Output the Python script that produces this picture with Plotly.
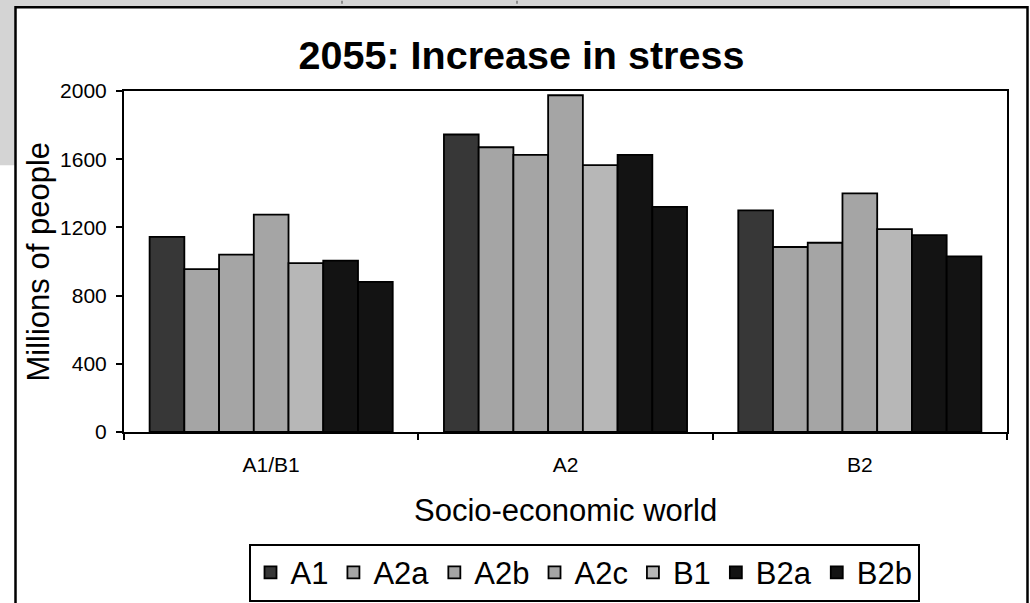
import plotly.graph_objects as go

# ---------------- data ----------------
categories = ["A1/B1", "A2", "B2"]
series_names = ["A1", "A2a", "A2b", "A2c", "B1", "B2a", "B2b"]
A1 = [1145, 1745, 1300]
A2a = [955, 1670, 1085]
A2b = [1040, 1625, 1110]
A2c = [1275, 1975, 1400]
B1 = [990, 1565, 1190]
B2a = [1005, 1625, 1155]
B2b = [880, 1320, 1030]
series_values = [A1, A2a, A2b, A2c, B1, B2a, B2b]
series_colors = ["#373737", "#a5a5a5", "#a5a5a5", "#a5a5a5", "#b7b7b7", "#131313", "#131313"]
y_ticks = [0, 400, 800, 1200, 1600, 2000]

# ---------------- geometry (pixels) ----------------
W, H = 1030, 603
PL, PR, PT, PB = 124, 1007, 90.5, 432.5
pw, ph = PR - PL, PB - PT


def px(x):
    return (x - PL) / pw


def py(y):
    return (PB - y) / ph


FONT = "Liberation Sans, Arial, sans-serif"

fig = go.Figure()
for name, vals, col in zip(series_names, series_values, series_colors):
    fig.add_trace(go.Bar(
        name=name, x=categories, y=vals,
        marker=dict(color=col, line=dict(color="black", width=1.8)),
    ))

shapes = [
    # gray worksheet background
    dict(type="rect", xref="paper", yref="paper", layer="below",
         x0=px(-5), x1=px(950), y0=py(-5), y1=py(165),
         fillcolor="#d4d4d4", line=dict(width=0)),
    # chart frame
    dict(type="rect", xref="paper", yref="paper", layer="below",
         x0=px(15.5), x1=px(1027.5), y0=py(6.5), y1=py(650),
         fillcolor="white", line=dict(color="black", width=2.5)),
    # dotted cell gridlines above the frame
    dict(type="line", xref="paper", yref="paper", layer="below",
         x0=px(342), x1=px(342), y0=py(0), y1=py(5.5),
         line=dict(color="#444444", width=1, dash="dot")),
    dict(type="line", xref="paper", yref="paper", layer="below",
         x0=px(517), x1=px(517), y0=py(0), y1=py(5.5),
         line=dict(color="#444444", width=1, dash="dot")),
]

annotations = [
    dict(text="Millions of people", xref="paper", yref="paper",
         x=px(38), y=0.5, textangle=-90, showarrow=False,
         xanchor="center", yanchor="middle",
         font=dict(family=FONT, size=31, color="black")),
    dict(text="Socio-economic world", xref="paper", yref="paper",
         x=0.5, y=py(511), showarrow=False,
         xanchor="center", yanchor="middle",
         font=dict(family=FONT, size=31, color="black")),
]

fig.update_layout(
    width=W, height=H,
    margin=dict(l=PL, r=W - PR, t=PT, b=H - PB, autoexpand=False),
    paper_bgcolor="white", plot_bgcolor="white",
    barmode="group", bargap=0.174, bargroupgap=0,
    title=dict(text="<b>2055: Increase in stress</b>", xref="container", yref="container",
               x=521.5 / W, y=1 - 55 / H, xanchor="center", yanchor="middle",
               font=dict(family=FONT, size=39.5, color="black")),
    shapes=shapes,
    annotations=annotations,
    showlegend=True,
    legend=dict(orientation="h", xref="paper", yref="paper",
                x=px(584), y=py(544.5), xanchor="center", yanchor="top",
                bgcolor="white", bordercolor="black", borderwidth=2,
                font=dict(family=FONT, size=31, color="black"),
                traceorder="normal", itemclick=False, tracegroupgap=0,
                itemwidth=30),
    xaxis=dict(type="category", showline=True, linecolor="black", linewidth=2,
               mirror=True, ticks="outside", tickson="boundaries", ticklen=6,
               tickwidth=2, tickcolor="black", showgrid=False,
               tickfont=dict(family=FONT, size=21, color="black"),
               ticklabelstandoff=13),
    yaxis=dict(range=[0, 2000], tickvals=y_ticks, showline=True, linecolor="black",
               linewidth=2, mirror=True, ticks="outside", ticklen=6, tickwidth=2,
               tickcolor="black", showgrid=False, zeroline=False,
               tickfont=dict(family=FONT, size=21, color="black"),
               ticklabelstandoff=5),
    font=dict(family=FONT, color="black"),
)

fig.write_html(
    "out.html",
    config={"displayModeBar": False},
    post_script="document.body.style.margin='0';document.body.style.padding='0';",
)
